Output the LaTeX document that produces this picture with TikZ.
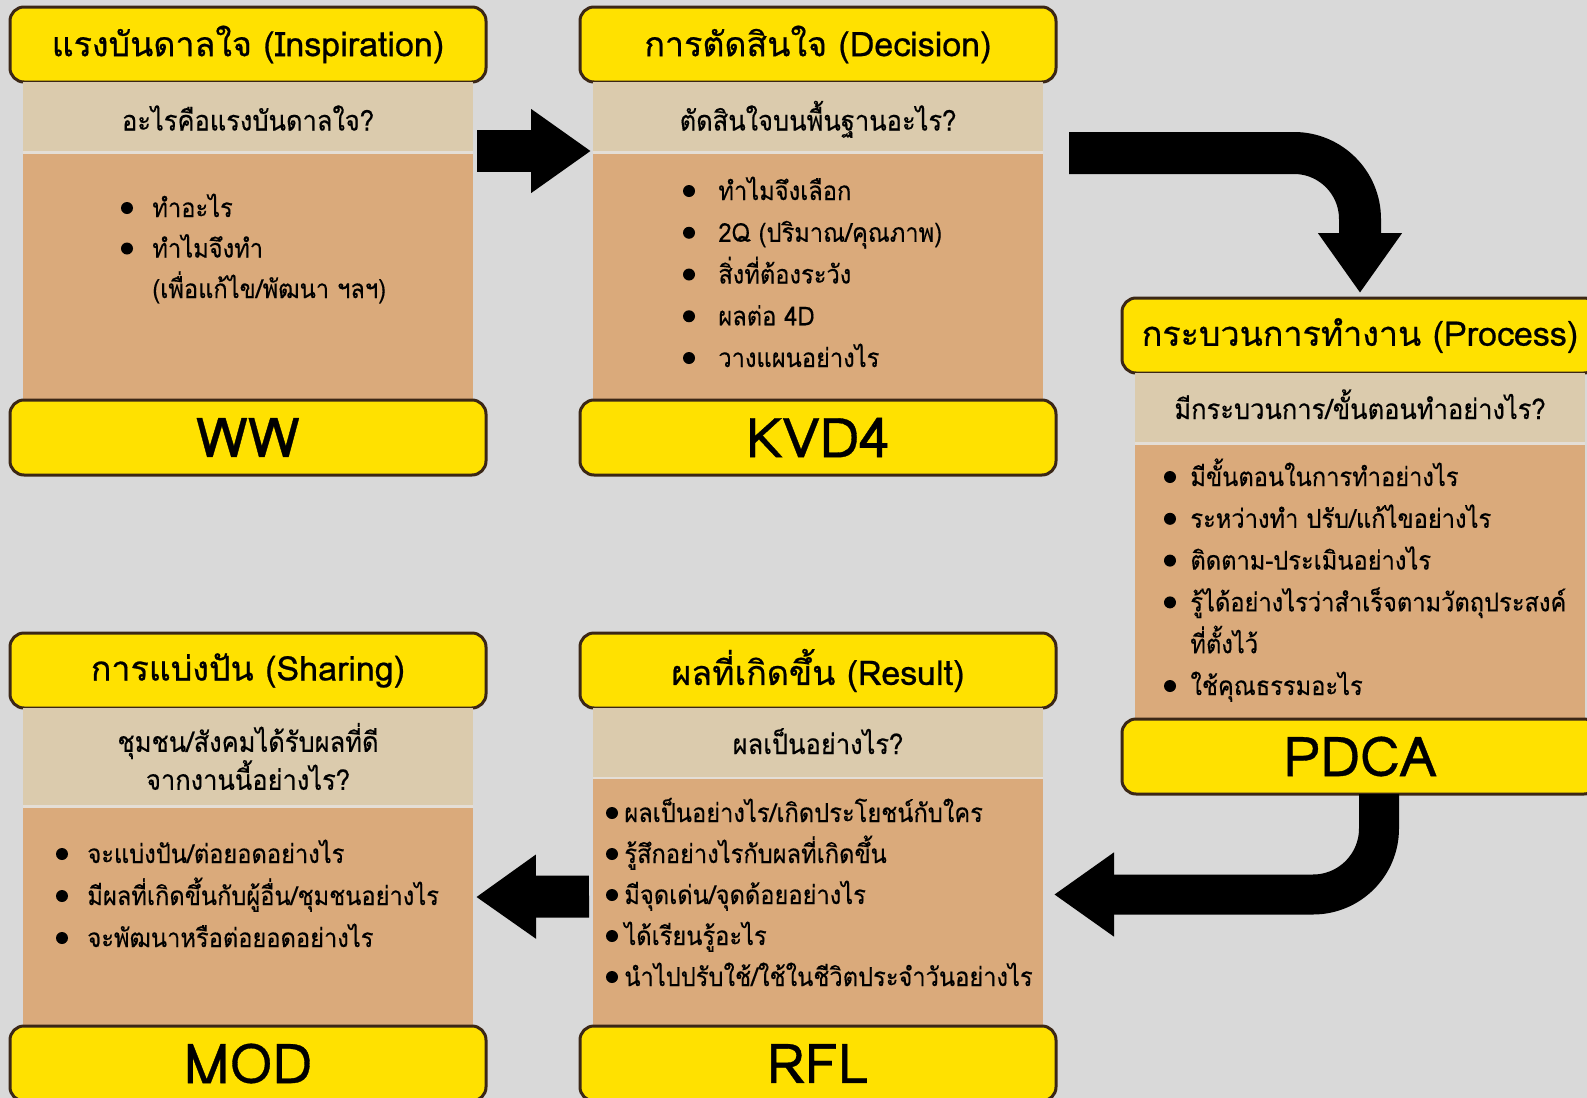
\documentclass[tikz,border=0pt]{standalone}
\usepackage{fontspec}
\setmainfont[Script=Thai, FakeStretch=0.91, FakeBold=0.35]{Loma}
\newfontfamily\headfont[Script=Thai, FakeBold=0.6]{Loma}
\usepackage{tikz}
\usetikzlibrary{positioning, arrows.meta}

\definecolor{bggray}{HTML}{D9D9D9}
\definecolor{headyellow}{HTML}{FFE100}
\definecolor{boxline}{HTML}{3B2716}
\definecolor{askbeige}{HTML}{DBCBAD}
\definecolor{listtan}{HTML}{DAAA7B}
\definecolor{sepline}{HTML}{E4DED6}

\tikzset{
    headbox/.style = {draw=boxline, line width=1.5pt, fill=headyellow,
        rounded corners=7pt, minimum width=238pt, minimum height=37.5pt,
        inner sep=0pt, outer sep=0pt, font=\headfont\fontsize{17}{20}\selectfont},
    tagbox/.style = {headbox, font=\headfont\fontsize{27.5}{30}\selectfont},
    askbox/.style = {fill=askbeige, minimum width=225pt, inner sep=0pt,
        outer sep=0pt, align=center, font=\fontsize{14}{19}\selectfont},
    oneline/.style = {text height=13pt, text depth=1.5pt},
    listbox/.style = {fill=listtan, minimum width=225pt, inner sep=0pt,
        outer sep=0pt},
    listitem/.style = {anchor=base west, inner sep=0pt,
        font=\fontsize{13}{19}\selectfont},
    blockarrow/.style = {line width=21pt,
        -{Triangle[length=30pt, width=40pt]}},
}

\begin{document}
\begin{tikzpicture} [x=0.5pt, y=-0.5pt,
            node distance = 0pt]

            \useasboundingbox (0,0) rectangle (1587,1098);
            \clip (0,0) rectangle (1587,1098);
            \fill[bggray] (0,0) rectangle (1587,1098);

            % Inspiration
            \node (ww-head) [headbox, anchor=north] at (248,7) {แรงบันดาลใจ (Inspiration)};
            \node (ww-ask) [askbox, oneline, text height=15.5pt, minimum height=34.5pt,
                below = of ww-head] {อะไรคือแรงบันดาลใจ?};
            \node (ww-list) [listbox, minimum height=123pt,
                below = 1.5pt of ww-ask] {};
            \node (ww-tag) [tagbox,
                below = of ww-list] {WW};

            % Decision
            \node (kvd-head) [headbox, anchor=north] at (818,7) {การตัดสินใจ (Decision)};
            \node (kvd-ask) [askbox, oneline, text height=15.5pt, minimum height=34.5pt,
                below = of kvd-head] {ตัดสินใจบนพื้นฐานอะไร?};
            \node (kvd-list) [listbox, minimum height=123pt,
                below = 1.5pt of kvd-ask] {};
            \node (kvd-tag) [tagbox,
                below = of kvd-list] {KVD4};

            % Process
            \node (pdca-head) [headbox, anchor=north] at (1360,298) {กระบวนการทำงาน (Process)};
            \node (pdca-ask) [askbox, oneline, minimum height=34.5pt,
                below = of pdca-head] {มีกระบวนการ/ขั้นตอนทำอย่างไร?};
            \node (pdca-list) [listbox, minimum height=137pt,
                below = 1.5pt of pdca-ask] {};
            \node (pdca-tag) [tagbox,
                below = of pdca-list] {PDCA};

            % Sharing
            \node (mod-head) [headbox, anchor=north] at (248,633) {การแบ่งปัน (Sharing)};
            \node (mod-ask) [askbox, minimum height=48.5pt,
                below = of mod-head] {ชุมชน/สังคมได้รับผลที่ดี\\จากงานนี้อย่างไร?};
            \node (mod-list) [listbox, minimum height=109pt,
                below = 1.5pt of mod-ask] {};
            \node (mod-tag) [tagbox,
                below = of mod-list] {MOD};

            % Result
            \node (rfl-head) [headbox, anchor=north] at (818,633) {ผลที่เกิดขึ้น (Result)};
            \node (rfl-ask) [askbox, oneline, minimum height=34.5pt,
                below = of rfl-head] {ผลเป็นอย่างไร?};
            \node (rfl-list) [listbox, minimum height=123.5pt,
                below = 1pt of rfl-ask] {};
            \node (rfl-tag) [tagbox,
                below = of rfl-list] {RFL};

            % light line under the questions
            \foreach \c in {ww, kvd, pdca, mod, rfl}
                \fill[sepline] (\c-ask.south west) rectangle (\c-list.north east);

            % Lists
            \foreach \txt [count=\k] in {ทำอะไร, ทำไมจึงทำ, {(เพื่อแก้ไข/พัฒนา ฯลฯ)}}
                \node (ww-item-\k) [listitem] at (152, 176.5+40.5*\k) {\txt};
            \foreach \k in {1,2}
                \fill (127, 167.5+40.5*\k) circle (3pt);

            \foreach \txt [count=\k] in {ทำไมจึงเลือก, 2Q (ปริมาณ/คุณภาพ), สิ่งที่ต้องระวัง, ผลต่อ 4D, วางแผนอย่างไร}
                \node (kvd-item-\k) [listitem] at (718, 158.25+41.75*\k) {\txt};
            \foreach \k in {1,...,5}
                \fill (689, 149.25+41.75*\k) circle (3pt);

            \foreach \txt [count=\k] in {มีขั้นตอนในการทำอย่างไร, ระหว่างทำ ปรับ/แก้ไขอย่างไร, ติดตาม-ประเมินอย่างไร, รู้ได้อย่างไรว่าสำเร็จตามวัตถุประสงค์, ที่ตั้งไว้, ใช้คุณธรรมอะไร}
                \node (pdca-item-\k) [listitem] at (1190, 444.2+41.8*\k) {\txt};
            \foreach \k in {1,2,3,4,6}
                \fill (1170, 435.2+41.8*\k) circle (3pt);

            \foreach \txt [count=\k] in {จะแบ่งปัน/ต่อยอดอย่างไร, มีผลที่เกิดขึ้นกับผู้อื่น/ชุมชนอย่างไร, จะพัฒนาหรือต่อยอดอย่างไร}
                \node (mod-item-\k) [listitem] at (87, 821+42*\k) {\txt};
            \foreach \k in {1,2,3}
                \fill (62, 812+42*\k) circle (3pt);

            \foreach \txt [count=\k] in {ผลเป็นอย่างไร/เกิดประโยชน์กับใคร, รู้สึกอย่างไรกับผลที่เกิดขึ้น, มีจุดเด่น/จุดด้อยอย่างไร, ได้เรียนรู้อะไร, นำไปปรับใช้/ใช้ในชีวิตประจำวันอย่างไร}
                \node (rfl-item-\k) [listitem] at (624, 781+41*\k) {\txt};
            \foreach \k in {1,...,5}
                \fill (612, 772+41*\k) circle (3pt);

            % Arrows
            \draw[blockarrow] ([xshift=2pt]ww-ask.south east) -- ([xshift=-1pt]kvd-ask.south west);
            \draw[blockarrow, rounded corners=33pt]
                ([xshift=13pt, yshift=-1pt]kvd-ask.south east) -| ([yshift=2.5pt]pdca-head.north);
            \draw[blockarrow, line width=20pt, rounded corners=33pt]
                ([xshift=9.5pt]pdca-tag.south) |- ([xshift=5.5pt, yshift=4pt]rfl-list.east);
            \draw[blockarrow] ([xshift=-2pt, yshift=3pt]rfl-list.west) -- ([xshift=1.5pt, yshift=10pt]mod-list.east);
        \end{tikzpicture}
\end{document}
